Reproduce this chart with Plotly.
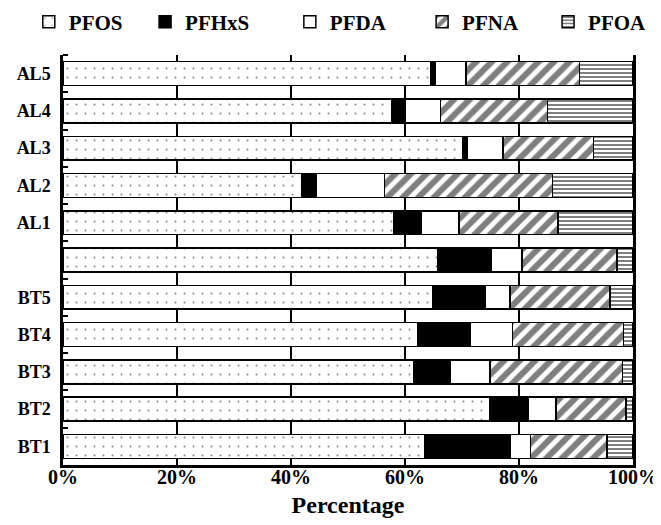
import plotly.graph_objects as go

# categories bottom -> top
categories = ["BT1", "BT2", "BT3", "BT4", "BT5", "", "AL1", "AL2", "AL3", "AL4", "AL5"]
PFOS  = [63.4, 74.9, 61.6, 62.3, 64.8, 65.7, 58.1, 41.8, 70.1, 57.7, 64.5]
PFHxS = [15.0,  6.7,  6.3,  9.1,  9.3,  9.5,  4.7,  2.7,  0.9,  2.4,  0.8]
PFDA  = [ 3.6,  4.9,  7.0,  7.5,  4.3,  5.3,  6.7, 11.9,  6.2,  6.1,  5.4]
PFNA  = [13.4, 12.3, 23.3, 19.4, 17.6, 16.7, 17.3, 29.5, 15.9, 18.8, 19.9]
PFOA  = [ 4.6,  1.2,  1.8,  1.7,  4.0,  2.8, 13.2, 14.1,  6.9, 15.0,  9.4]
x_ticks = [0, 20, 40, 60, 80, 100]
x_ticklabels = ["0%", "20%", "40%", "60%", "80%", "100%"]

ypos = list(range(len(categories)))
FONT = "Liberation Serif, Times New Roman, Times, serif"

series = [
    ("PFOS", PFOS, dict(shape=".", size=9, solidity=0.035, fgcolor="black", bgcolor="white", fillmode="overlay")),
    ("PFHxS", PFHxS, None),
    ("PFDA", PFDA, None),
    ("PFNA", PFNA, dict(shape="/", size=11, solidity=0.55, fgcolor="black", bgcolor="white", fillmode="overlay")),
    ("PFOA", PFOA, dict(shape="-", size=4, solidity=0.5, fgcolor="black", bgcolor="white", fillmode="overlay")),
]
fills = {"PFOS": "white", "PFHxS": "black", "PFDA": "white", "PFNA": "white", "PFOA": "white"}
legend_x = [-0.060, 0.144, 0.398, 0.630, 0.851]

fig = go.Figure()
legends = {}
for i, (name, vals, pat) in enumerate(series):
    marker = dict(color=fills[name], line=dict(color="black", width=1.5))
    if pat:
        marker["pattern"] = pat
    lid = "legend" if i == 0 else f"legend{i + 1}"
    fig.add_trace(go.Bar(
        y=ypos, x=vals, name=name, orientation="h", marker=marker, width=0.64,
        legend=lid,
    ))
    legends[lid] = dict(
        orientation="h", x=legend_x[i], xanchor="left", y=1.080, yanchor="middle",
        font=dict(family=FONT, size=21, color="black", weight="bold"),
        itemwidth=30, bgcolor="rgba(0,0,0,0)",
    )

fig.update_layout(
    width=653, height=517,
    barmode="stack",
    plot_bgcolor="white", paper_bgcolor="white",
    margin=dict(l=55, r=28, t=47, b=60, autoexpand=False),
    font=dict(family=FONT, color="black"),
    showlegend=True,
    xaxis=dict(
        range=[0, 100], tickvals=x_ticks, ticktext=x_ticklabels,
        showgrid=True, gridcolor="black", gridwidth=1.5,
        showline=True, linecolor="black", linewidth=2.5,
        ticks="inside", ticklen=5, tickwidth=1.5, tickcolor="black",
        ticklabelstandoff=-8,
        tickfont=dict(family=FONT, size=20, color="black", weight="bold"),
        zeroline=False, automargin=False,
        title=dict(text="Percentage", font=dict(family=FONT, size=24, color="black", weight="bold"), standoff=10),
    ),
    yaxis=dict(
        range=[-0.5, 10.5], tickvals=ypos, ticktext=categories,
        showgrid=False, zeroline=False, automargin=False,
        showline=True, linecolor="black", linewidth=2.5, mirror=True,
        ticks="", ticklabelstandoff=6,
        tickfont=dict(family=FONT, size=18, color="black", weight="bold"),
        minor=dict(tickmode="array", tickvals=[v + 0.5 for v in ypos], ticks="inside",
                   ticklen=5, tickwidth=1.5, tickcolor="black", showgrid=False),
    ),
    **legends,
)

fig.write_html("out.html")
